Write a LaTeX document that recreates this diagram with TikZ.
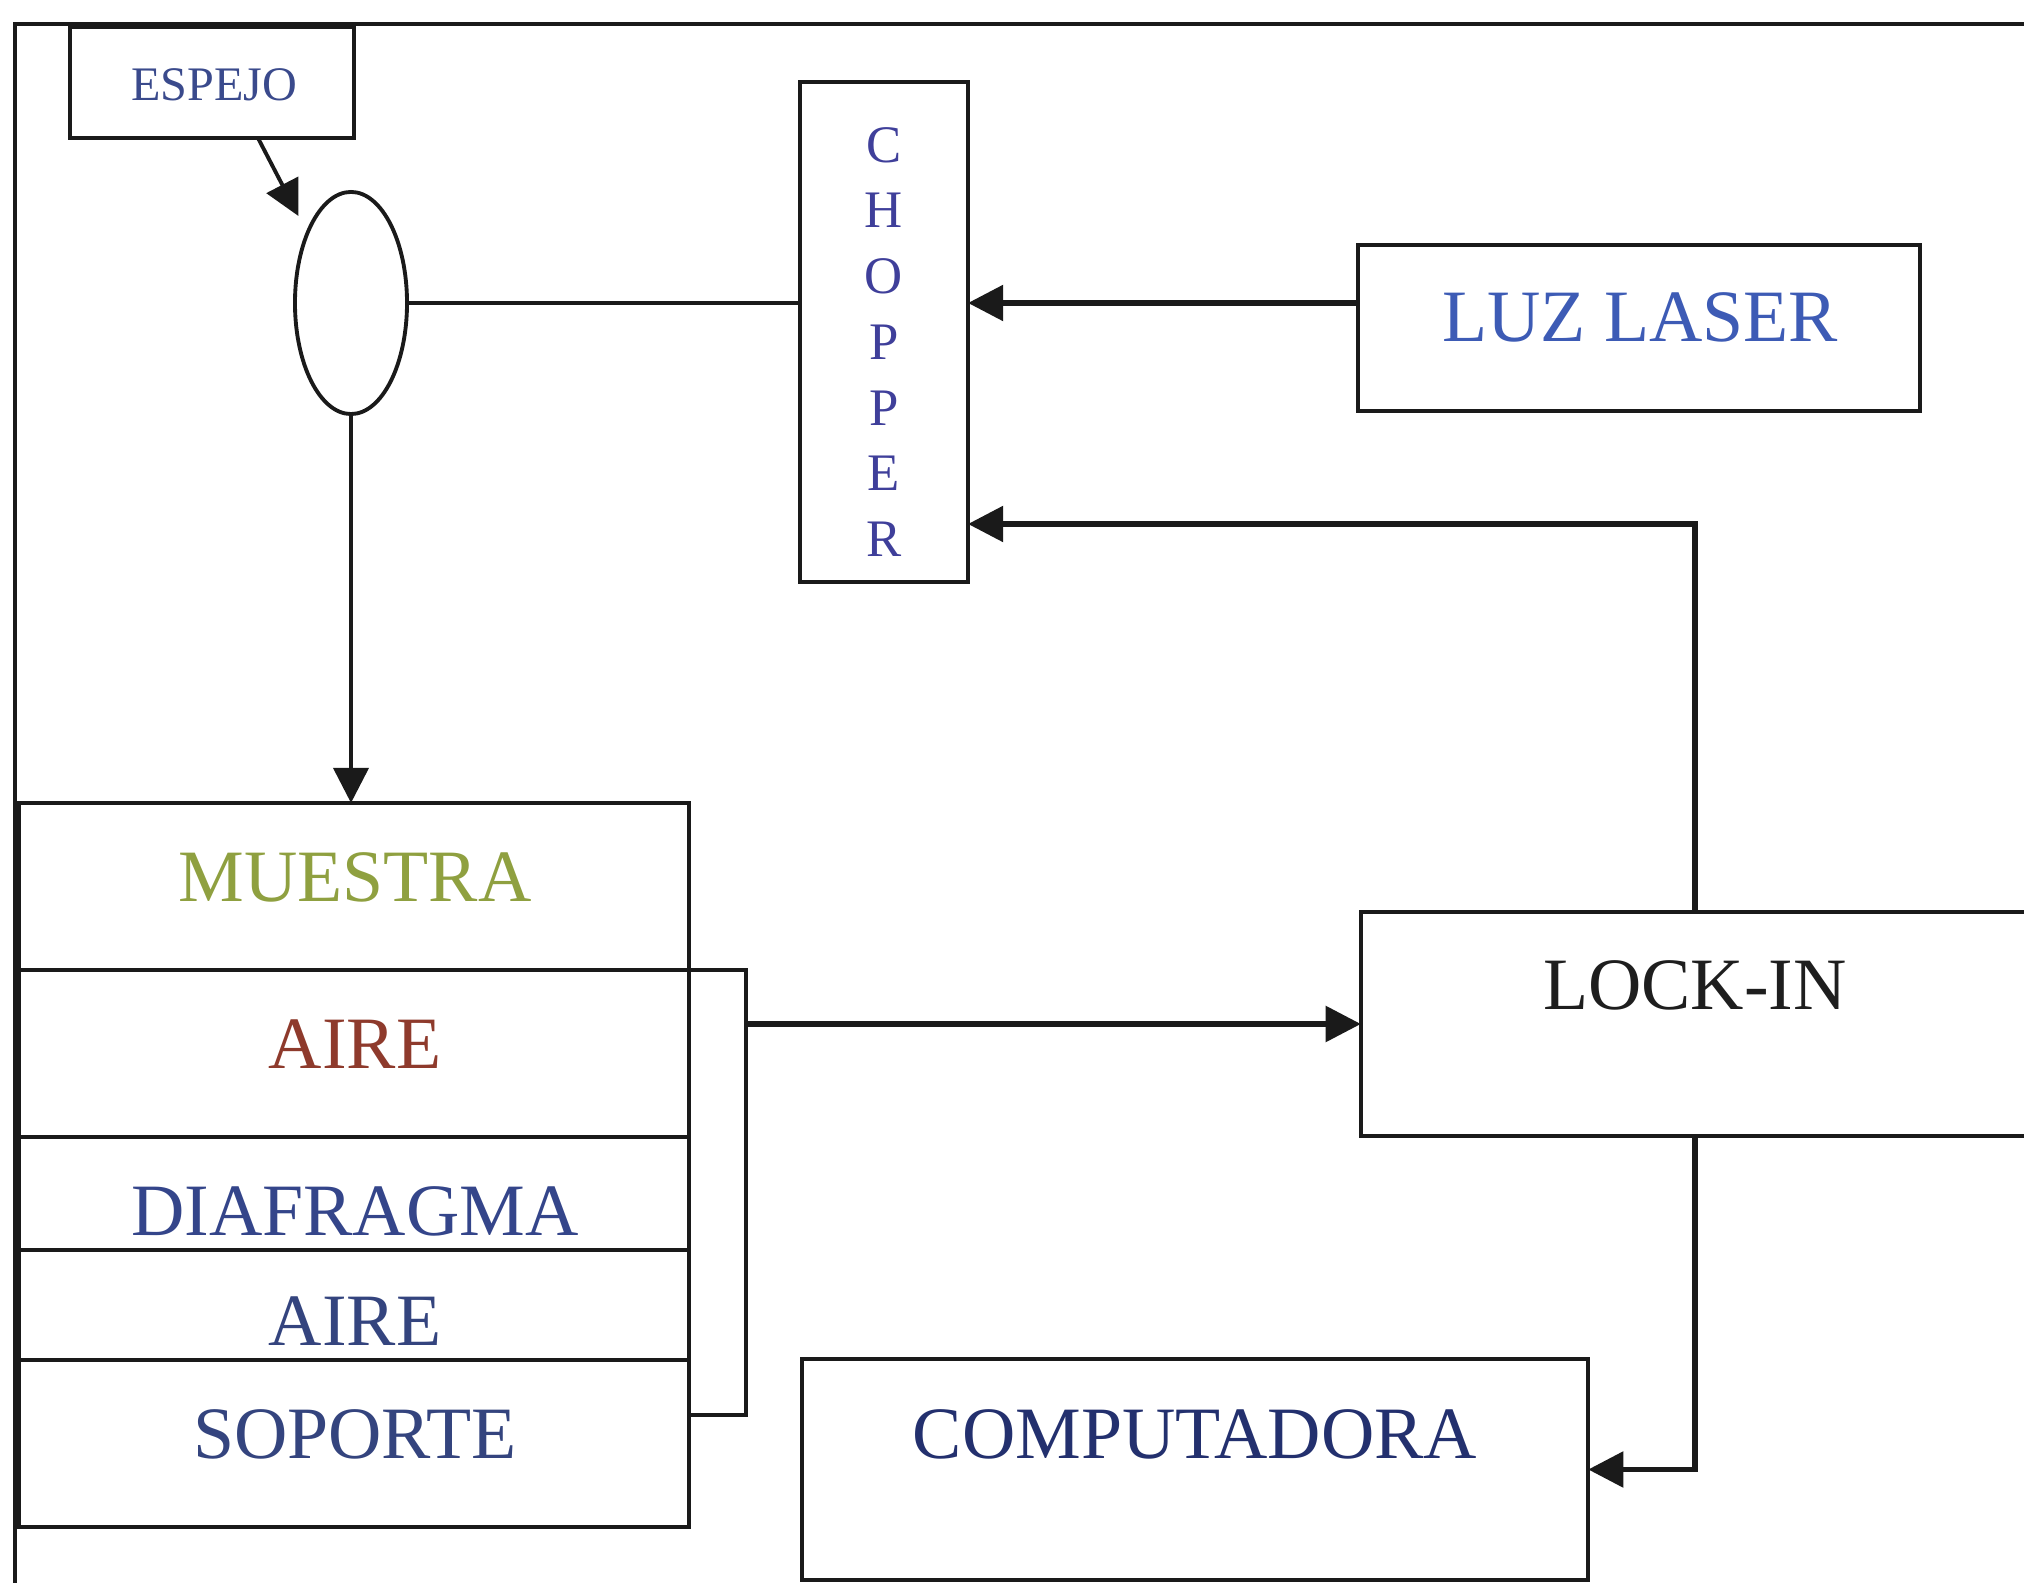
\documentclass[tikz,border=0pt]{standalone}
\usepackage{fontspec}
\setmainfont{Liberation Serif}
\usetikzlibrary{arrows.meta,shapes.geometric,calc}

\definecolor{cEsp}{HTML}{3A4A8C}
\definecolor{cChop}{HTML}{3F3F9A}
\definecolor{cLuz}{HTML}{3D5BB5}
\definecolor{cMue}{HTML}{8FA040}
\definecolor{cAire}{HTML}{8E3A2C}
\definecolor{cDia}{HTML}{34458A}
\definecolor{cAireB}{HTML}{34447E}
\definecolor{cSop}{HTML}{34447E}
\definecolor{cLock}{HTML}{1E1E1E}
\definecolor{cComp}{HTML}{23306E}
\definecolor{cLine}{HTML}{1A1A1A}

\begin{document}
\begin{tikzpicture}[x=0.01cm,y=-0.01cm,
  box/.style={draw=cLine,line width=1.1pt,rectangle,inner sep=0pt,outer sep=0pt},
  txt/.style={inner sep=0pt,anchor=base,font=\fontsize{21}{25}\selectfont},
  thinline/.style={draw=cLine,line width=1.1pt},
  arr/.style={draw=cLine,line width=1.5pt,-{Triangle[length=10pt,width=10pt]}},
  tarr/.style={draw=cLine,line width=1.1pt,-{Triangle[length=10pt,width=10pt]}},
]
\useasboundingbox (0,0) rectangle (2024,1583);

% outer frame (only top and left visible)
\draw[thinline] (15,1583) -- (15,24) -- (2024,24);

% nodes
\node[box,minimum width=2.84cm,minimum height=1.11cm] (espejo) at (212,82.5) {};
\node[txt,font=\fontsize{13.7}{16}\selectfont,text=cEsp] (tEsp) at (214,101) {ESPEJO};

\node[draw=cLine,line width=1.1pt,ellipse,inner sep=0pt,outer sep=0pt,
      minimum width=1.12cm,minimum height=2.22cm] (lens) at (351,303) {};

\node[box,minimum width=1.68cm,minimum height=5.0cm] (chopper) at (884,332) {};
\node[inner sep=0pt,align=center,text=cChop,font=\fontsize{15}{18.7}\selectfont]
  (tChop) at (884,342) {C\\H\\O\\P\\P\\E\\R};

\node[box,minimum width=5.62cm,minimum height=1.66cm] (luz) at (1639,328) {};
\node[txt,text=cLuz] (tLuz) at (1640,342) {LUZ LASER};

\node[box,minimum width=6.70cm,minimum height=1.67cm] (muestra) at (354,886.5) {};
\node[box,minimum width=6.70cm,minimum height=1.67cm] (aire1) at (354,1053.5) {};
\node[box,minimum width=6.70cm,minimum height=1.13cm] (diaf) at (354,1193.5) {};
\node[box,minimum width=6.70cm,minimum height=1.10cm] (aire2) at (354,1305) {};
\node[box,minimum width=6.70cm,minimum height=1.67cm] (soporte) at (354,1443.5) {};
\node[txt,text=cMue] (tMue) at (355,902) {MUESTRA};
\node[txt,text=cAire] (tAire1) at (355,1069) {AIRE};
\node[txt,text=cDia] (tDia) at (355,1236) {DIAFRAGMA};
\node[txt,text=cAireB] (tAire2) at (355,1346) {AIRE};
\node[txt,text=cSop] (tSop) at (355,1458) {SOPORTE};

\node[rectangle,inner sep=0pt,outer sep=0pt,minimum width=6.68cm,minimum height=2.24cm] (lock) at (1695,1024) {};
\draw[thinline] (lock.north east) -- (lock.north west) -- (lock.south west) -- (lock.south east);
\node[txt,text=cLock] (tLock) at (1695,1010) {LOCK-IN};

\node[box,minimum width=7.86cm,minimum height=2.21cm] (comp) at (1195,1469.5) {};
\node[txt,text=cComp] (tComp) at (1195,1458) {COMPUTADORA};

% connectors
\draw[tarr,shorten >=5.5pt] ($(espejo.south)+(46,0)$) -- (lens.122);
\draw[thinline] (lens.east) -- (chopper.west |- lens.east);
\draw[tarr] (lens.south) -- (lens.south |- muestra.north);
\draw[arr] (luz.west |- lens.east) -- (chopper.east |- lens.east);
\draw[arr] (lock.north) |- ($(chopper.east)+(0,192)$);
\coordinate (brk) at ($(aire1.north east)+(57,0)$);
\draw[thinline] (aire1.north east) -- (brk) |- ($(soporte.north east)+(0,55)$);
\draw[arr] (brk |- lock.west) -- (lock.west);
\draw[arr] (lock.south) |- (comp.east);
\end{tikzpicture}
\end{document}
